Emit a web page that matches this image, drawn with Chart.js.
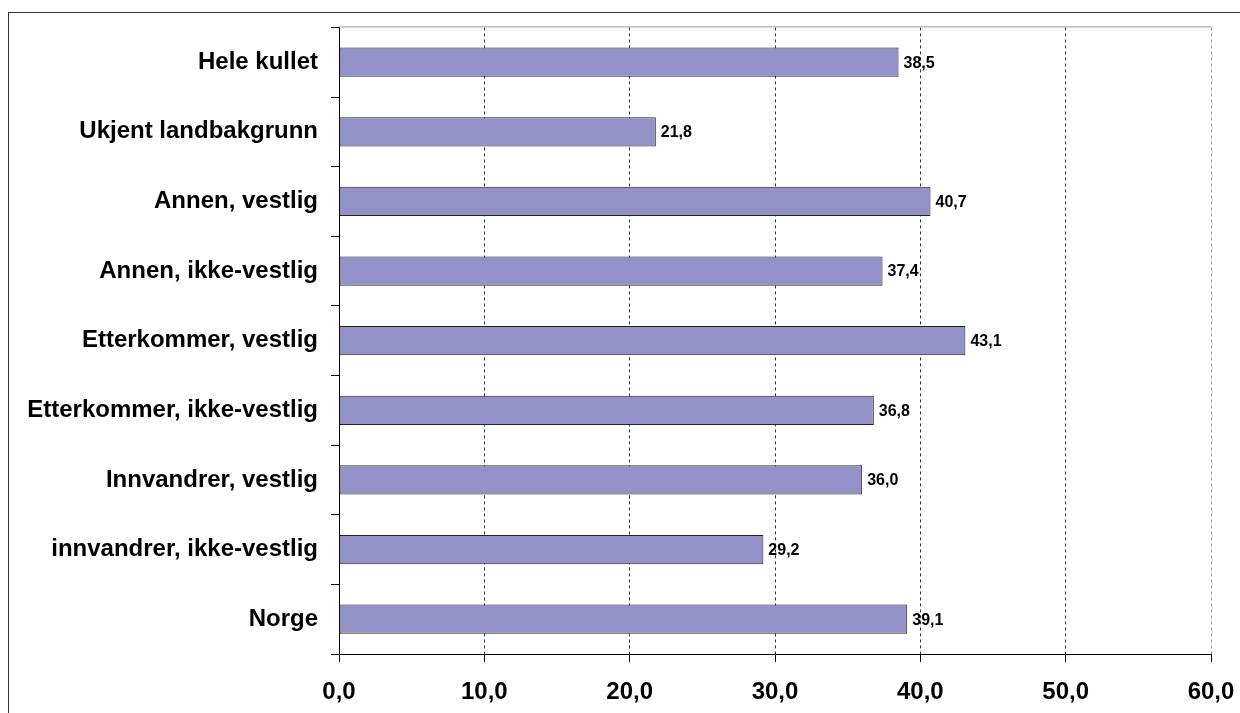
<!DOCTYPE html>
<html>
<head>
<meta charset="utf-8">
<script src="https://cdn.jsdelivr.net/npm/chart.js@4"></script>
<style>
    html, body { margin: 0; padding: 0; background: #fff; overflow: hidden; }
    #wrap { position: relative; width: 1240px; height: 713px; }
    #frame { position: absolute; left: 8px; top: 12px; width: 1300px; height: 800px; border: 1px solid #333; box-sizing: border-box; }
    #myChart { position: absolute; left: 0; top: 0; }
</style>
</head>
<body>
<div id="wrap">
    <div id="frame"></div>
    <canvas id="myChart" width="1240" height="713"></canvas>
</div>
<script>
// Categories, top to bottom
const categories = [
    'Hele kullet',
    'Ukjent landbakgrunn',
    'Annen, vestlig',
    'Annen, ikke-vestlig',
    'Etterkommer, vestlig',
    'Etterkommer, ikke-vestlig',
    'Innvandrer, vestlig',
    'innvandrer, ikke-vestlig',
    'Norge'
];
// Share in percent
const values = [38.5, 21.8, 40.7, 37.4, 43.1, 36.8, 36.0, 29.2, 39.1];
// x axis
const axisMin = 0;
const axisMax = 60;
const axisStep = 10;

const fmt = v => v.toFixed(1).replace('.', ',');
const fontFamily = '"Liberation Sans", Arial, sans-serif';

// Writes the value just past the end of each bar
const valueLabels = {
    id: 'valueLabels',
    afterDatasetsDraw(chart) {
        const ctx = chart.ctx;
        const meta = chart.getDatasetMeta(0);
        ctx.save();
        ctx.font = 'bold 16px ' + fontFamily;
        ctx.fillStyle = '#000';
        ctx.textAlign = 'left';
        ctx.textBaseline = 'middle';
        meta.data.forEach((bar, i) => {
            ctx.fillText(fmt(values[i]), bar.x + 5, bar.y + 1);
        });
        ctx.restore();
    }
};

// Thin grey line along the top of the plot area
const topBorder = {
    id: 'topBorder',
    beforeDatasetsDraw(chart) {
        const {ctx, chartArea} = chart;
        ctx.save();
        ctx.strokeStyle = '#999';
        ctx.lineWidth = 1;
        ctx.beginPath();
        ctx.moveTo(chartArea.left, chartArea.top - 0.5);
        ctx.lineTo(chartArea.right, chartArea.top - 0.5);
        ctx.stroke();
        ctx.restore();
    }
};

const ctx = document.getElementById('myChart');

new Chart(ctx, {
    type: 'bar',
    data: {
        labels: categories,
        datasets: [{
            data: values,
            backgroundColor: '#9292C8',
            borderColor: '#222',
            borderWidth: 1,
            borderSkipped: false,
            categoryPercentage: 1,
            barPercentage: 0.42
        }]
    },
    plugins: [topBorder, valueLabels],
    options: {
        indexAxis: 'y',
        responsive: false,
        animation: false,
        layout: { padding: { top: 26, right: 29, left: 0, bottom: 0 } },
        plugins: {
            legend: { display: false },
            tooltip: { enabled: false }
        },
        scales: {
            x: {
                min: axisMin,
                max: axisMax,
                ticks: {
                    stepSize: axisStep,
                    color: '#000',
                    padding: 16,
                    font: { family: fontFamily, size: 24, weight: 'bold' },
                    callback: v => fmt(v)
                },
                grid: {
                    color: c => (c.tick && c.tick.value === axisMax) ? '#999' : (c.tick && c.tick.value === axisMin ? 'rgba(0,0,0,0)' : '#333'),
                    lineWidth: 1,
                    drawTicks: true,
                    tickLength: 8,
                    tickColor: '#000',
                    tickBorderDash: []
                },
                border: { display: true, color: '#000', width: 1, dash: [3, 3] },
                afterFit: scale => {
                    scale.height = 713 - 654;
                    scale.paddingLeft = 0;
                    scale.paddingRight = 0;
                }
            },
            y: {
                grid: {
                    offset: true,
                    drawOnChartArea: false,
                    drawTicks: true,
                    tickLength: 8,
                    tickColor: '#000'
                },
                border: { display: true, color: '#000', width: 1 },
                ticks: {
                    color: '#000',
                    padding: 13,
                    font: { family: fontFamily, size: 24, weight: 'bold' }
                },
                afterFit: scale => { scale.width = 339; }
            }
        }
    }
});
</script>
</body>
</html>
